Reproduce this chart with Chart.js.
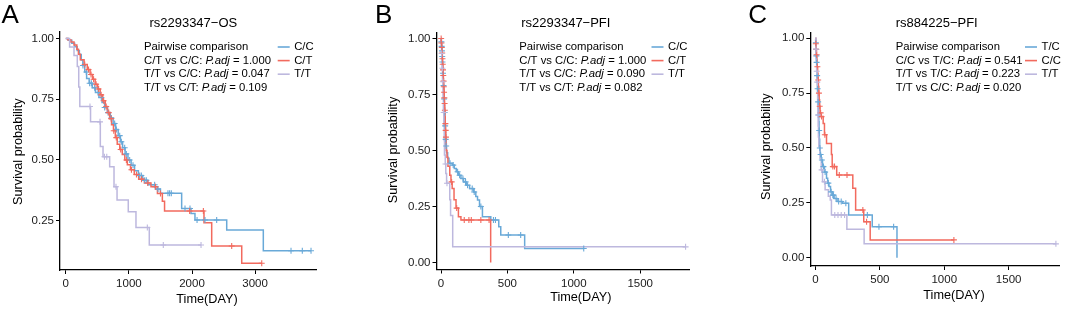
<!DOCTYPE html>
<html>
<head>
<meta charset="utf-8">
<script src="https://cdn.jsdelivr.net/npm/chart.js@4.4.1/dist/chart.umd.min.js"></script>
<style>
  html, body { margin: 0; padding: 0; background: #fff; }
  #wrap { position: relative; width: 1065px; height: 309px; overflow: hidden; }
  canvas { position: absolute; top: 0; }
</style>
</head>
<body>
<div id="wrap">
  <canvas id="panelA" width="355" height="309" style="left:0px"></canvas>
  <canvas id="panelB" width="355" height="309" style="left:355px"></canvas>
  <canvas id="panelC" width="355" height="309" style="left:710px"></canvas>
</div>
<script>
// Kaplan-Meier curves: [time, survival after drop] + censor times

// --- A: rs2293347 OS ---
const osCCSteps = [[40,0.993],[95,0.98],[140,0.966],[180,0.951],[215,0.934],[245,0.912],[270,0.889],[300,0.862],[330,0.835],[370,0.816],[420,0.797],[470,0.778],[525,0.757],[575,0.737],[615,0.716],[660,0.695],[705,0.673],[750,0.65],[790,0.625],[830,0.6],[865,0.575],[900,0.55],[940,0.525],[985,0.5],[1035,0.478],[1090,0.456],[1150,0.436],[1220,0.416],[1300,0.398],[1420,0.38],[1500,0.363],[1836,0.30],[1984,0.28],[2047,0.253],[2550,0.212],[3130,0.126]];
const osCCCensor = [272,325,378,405,457,510,563,616,669,722,774,801,854,880,933,959,1012,1065,1171,1197,1250,1276,1408,1461,1619,1645,1672,1889,1968,2080,2206,2391,3569,3748,3886];
const osCTSteps = [[30,0.995],[80,0.986],[130,0.973],[175,0.956],[200,0.935],[230,0.913],[290,0.893],[340,0.872],[385,0.852],[425,0.832],[465,0.812],[505,0.792],[545,0.768],[585,0.744],[625,0.72],[660,0.695],[695,0.67],[725,0.645],[755,0.62],[785,0.592],[815,0.565],[855,0.543],[895,0.522],[935,0.5],[975,0.48],[1025,0.46],[1085,0.44],[1155,0.421],[1245,0.405],[1350,0.39],[1452,0.362],[1530,0.33],[1565,0.29],[2190,0.242],[2312,0.146],[2788,0.075]];
const osCTCensor = [300,360,400,440,480,520,560,600,640,680,720,760,800,870,960,1040,1120,1200,1300,1420,1500,1963,2180,2629,3105];
const osTTSteps = [[60,0.965],[130,0.93],[182,0.885],[205,0.80],[222,0.72],[392,0.657],[547,0.555],[590,0.513],[695,0.472],[764,0.39],[812,0.335],[990,0.287],[1112,0.222],[1323,0.15]];
const osTTCensor = [383,542,612,649,795,1292,1545,2143];

// --- B: rs2293347 PFI ---
const pfiCCSteps = [[2,0.985],[4,0.965],[6,0.945],[8,0.92],[10,0.895],[12,0.87],[14,0.845],[16,0.82],[18,0.79],[20,0.76],[22,0.73],[24,0.70],[26,0.67],[28,0.64],[30,0.61],[32,0.58],[34,0.55],[37,0.52],[41,0.49],[50,0.465],[60,0.443],[85,0.435],[100,0.42],[115,0.405],[130,0.39],[150,0.375],[170,0.36],[190,0.345],[215,0.33],[245,0.315],[262,0.295],[275,0.279],[290,0.25],[312,0.204],[375,0.19],[435,0.16],[450,0.123],[630,0.063]];
const pfiCCCensor = [3,5,7,9,11,15,19,23,27,31,35,39,68,92,125,140,165,185,200,235,250,300,395,410,507,600,1075];
const pfiCTSteps = [[2,0.98],[5,0.96],[8,0.935],[10,0.91],[12,0.885],[14,0.86],[16,0.835],[18,0.81],[20,0.785],[22,0.76],[24,0.735],[26,0.71],[28,0.68],[30,0.65],[32,0.62],[34,0.59],[36,0.56],[38,0.53],[40,0.50],[45,0.47],[52,0.43],[66,0.39],[75,0.36],[84,0.33],[98,0.28],[113,0.243],[131,0.205],[150,0.19],[374,0]];
const pfiCTCensor = [1,3,6,9,11,13,15,17,19,21,23,25,27,29,33,35,37,80,118,175,210,228,300,362];
const pfiTTSteps = [[4,0.933],[8,0.867],[11,0.807],[15,0.74],[18,0.67],[21,0.61],[24,0.545],[26,0.48],[32,0.44],[36,0.398],[42,0.354],[66,0.28],[72,0.21],[88,0.07]];
const pfiTTCensor = [5,10,14,20,34,45,1842];

// --- C: rs884225 PFI ---
const snpTCSteps = [[2,0.98],[4,0.95],[6,0.92],[8,0.89],[10,0.86],[12,0.83],[14,0.80],[16,0.77],[18,0.74],[20,0.71],[22,0.68],[24,0.65],[26,0.62],[28,0.58],[30,0.54],[33,0.50],[36,0.47],[45,0.445],[55,0.415],[70,0.39],[86,0.362],[95,0.34],[105,0.324],[117,0.30],[130,0.285],[145,0.27],[168,0.256],[210,0.248],[258,0.195],[441,0.141],[633,0]];
const snpTCCensor = [3,5,7,9,13,17,21,25,29,34,40,50,62,75,100,122,135,140,160,180,200,236,403,493,607];
const snpCCSteps = [[2,0.975],[5,0.95],[8,0.925],[11,0.9],[14,0.87],[17,0.84],[20,0.81],[23,0.78],[26,0.75],[29,0.72],[32,0.69],[36,0.66],[42,0.643],[60,0.612],[70,0.56],[86,0.52],[124,0.47],[130,0.415],[165,0.377],[290,0.316],[312,0.217],[375,0.164],[425,0.081]];
const snpCCCensor = [3,6,9,15,21,27,33,40,47,73,135,148,185,245,368,397,1075];
const snpTTSteps = [[3,0.95],[6,0.90],[9,0.85],[12,0.80],[15,0.75],[17,0.70],[19,0.65],[21,0.60],[23,0.55],[26,0.506],[35,0.453],[45,0.40],[55,0.346],[75,0.31],[100,0.28],[115,0.263],[124,0.195],[244,0.129],[378,0.063]];
const snpTTCensor = [4,10,14,20,48,70,150,175,200,226,1867];

// legends / labels
const strataAB = ['C/C', 'C/T', 'T/T'];
const strataC = ['T/C', 'C/C', 'T/T'];
const pairsAB = ['C/T vs C/C', 'T/T vs C/C', 'T/T vs C/T'];
const pairsC = ['C/C vs T/C', 'T/T vs T/C', 'T/T vs C/C'];
const padjA = ['1.000', '0.047', '0.109'];
const padjB = ['1.000', '0.090', '0.082'];
const padjC = ['0.541', '0.223', '0.020'];
const xTicksOS = [0, 1000, 2000, 3000];
const xTicksPFI = [0, 500, 1000, 1500];
const yTicksA = [0.25, 0.5, 0.75, 1.0];
const yTicksBC = [0, 0.25, 0.5, 0.75, 1.0];

const COLORS = ['#69A9D8', '#F26A5E', '#BDB8DE'];
const FONT = '"Liberation Sans", Arial, Helvetica, sans-serif';
const INK = '#000';

function survAt(steps, t) {
    let s = 1;
    for (const [st, sv] of steps) {
        if (st <= t) s = sv; else break;
    }
    return s;
}

function drawRuns(ctx, runs, x, y, size) {
    runs.forEach(r => {
        ctx.font = (r.it ? 'italic ' : '') + size + 'px ' + FONT;
        ctx.fillText(r.t, x, y);
        x += ctx.measureText(r.t).width;
    });
}

function textLayer(p) {
    return {
        id: 'textLayer',
        afterDraw(chart) {
            const ctx = chart.ctx;
            ctx.save();
            ctx.fillStyle = INK;
            ctx.textBaseline = 'alphabetic';
            ctx.textAlign = 'left';
            ctx.font = '26px ' + FONT;
            ctx.fillText(p.letter, p.letterX, 22.7);

            ctx.textAlign = 'center';
            ctx.font = '13px ' + FONT;
            ctx.fillText(p.title, p.titleX, 27);

            ctx.font = '12.7px ' + FONT;
            ctx.textBaseline = 'middle';
            ctx.fillText('Time(DAY)', p.xLabX, p.xLabY);
            ctx.save();
            ctx.translate(p.yLabX, p.yLabY);
            ctx.rotate(-Math.PI / 2);
            ctx.fillText('Survival probability', 0, 0);
            ctx.restore();

            // pairwise legend
            const size = 11.3, base = 50, dy = 13.6;
            ctx.textAlign = 'left';
            ctx.textBaseline = 'alphabetic';
            ctx.font = size + 'px ' + FONT;
            ctx.fillText('Pairwise comparison', p.legX, base);
            p.pairs.forEach((pr, i) => {
                drawRuns(ctx, [{ t: pr + ': ' }, { t: 'P.adj', it: true }, { t: ' = ' + p.padj[i] }],
                    p.legX, base + dy * (i + 1), size);
            });
            p.strata.forEach((s, i) => {
                const y = base + dy * i;
                ctx.strokeStyle = COLORS[i];
                ctx.lineWidth = 1.6;
                ctx.beginPath();
                ctx.moveTo(p.keyX, y - 3);
                ctx.lineTo(p.keyX + 12, y - 3);
                ctx.stroke();
                ctx.font = size + 'px ' + FONT;
                ctx.fillText(s, p.keyX + 16.5, y);
            });
            ctx.restore();
        }
    };
}

function buildPanel(id, p) {
    const datasets = [];
    p.groups.forEach((g, i) => {
        const last = g.steps[g.steps.length - 1];
        const end = Math.max(last[0], ...g.censor);
        const line = [{ x: 0, y: 1 }].concat(g.steps.map(s => ({ x: s[0], y: s[1] })));
        if (end > last[0]) line.push({ x: end, y: last[1] });
        datasets.push({
            data: line,
            showLine: true,
            stepped: true,
            borderColor: COLORS[i],
            borderWidth: 1.5,
            pointRadius: 0,
            fill: false,
            order: 10 - i
        });
        datasets.push({
            data: g.censor.map(t => ({ x: t, y: survAt(g.steps, t) })),
            showLine: false,
            pointStyle: 'cross',
            pointRadius: 3,
            borderWidth: 1.1,
            borderColor: COLORS[i],
            backgroundColor: COLORS[i],
            order: 3 - i
        });
    });

    const tickFont = { family: FONT, size: 11.5 };
    new Chart(document.getElementById(id), {
        type: 'scatter',
        data: { datasets: datasets },
        options: {
            responsive: false,
            animation: false,
            events: [],
            layout: { padding: p.pad },
            plugins: { legend: { display: false }, tooltip: { enabled: false } },
            scales: {
                x: {
                    type: 'linear',
                    min: p.xMin,
                    max: p.xMax,
                    afterBuildTicks: s => { s.ticks = p.xTicks.map(v => ({ value: v })); },
                    afterFit: s => { s.height = 25; },
                    grid: { display: true, drawOnChartArea: false, drawTicks: true, tickLength: 4, color: '#000', lineWidth: 1 },
                    border: { display: true, color: '#000', width: 1.3 },
                    ticks: { color: '#1a1a1a', font: tickFont, padding: 3, maxRotation: 0, callback: v => String(v) }
                },
                y: {
                    type: 'linear',
                    min: p.yMin,
                    max: p.yMax,
                    afterBuildTicks: s => { s.ticks = p.yTicks.map(v => ({ value: v })); },
                    afterFit: s => { s.width = 40; },
                    grid: { display: true, drawOnChartArea: false, drawTicks: true, tickLength: 4, color: '#000', lineWidth: 1 },
                    border: { display: true, color: '#000', width: 1.3 },
                    ticks: { color: '#1a1a1a', font: tickFont, padding: 2, callback: v => v.toFixed(2) }
                }
            }
        },
        plugins: [textLayer(p)]
    });
}

buildPanel('panelA', {
    groups: [
        { steps: osCCSteps, censor: osCCCensor },
        { steps: osCTSteps, censor: osCTCensor },
        { steps: osTTSteps, censor: osTTCensor }
    ],
    xMin: -92, xMax: 3965, yMin: 0.047, yMax: 1.0268,
    xTicks: xTicksOS, yTicks: yTicksA,
    pad: { left: 20, right: 39, top: 32, bottom: 14 },
    letter: 'A', letterX: 1.5, title: 'rs2293347\u2212OS', titleX: 193.3,
    xLabX: 207, xLabY: 299, yLabX: 18.3, yLabY: 151.7,
    legX: 144, keyX: 277.7,
    pairs: pairsAB, padj: padjA, strata: strataAB
});

buildPanel('panelB', {
    groups: [
        { steps: pfiCCSteps, censor: pfiCCCensor },
        { steps: pfiCTSteps, censor: pfiCTCensor },
        { steps: pfiTTSteps, censor: pfiTTCensor }
    ],
    xMin: -34, xMax: 1870, yMin: -0.031, yMax: 1.0246,
    xTicks: xTicksPFI, yTicks: yTicksBC,
    pad: { left: 41.5, right: 20.7, top: 33, bottom: 14.5 },
    letter: 'B', letterX: 20, title: 'rs2293347\u2212PFI', titleX: 210.8,
    xLabX: 225.8, xLabY: 297, yLabX: 38.3, yLabY: 150,
    legX: 164.3, keyX: 296.5,
    pairs: pairsAB, padj: padjB, strata: strataAB
});

buildPanel('panelC', {
    groups: [
        { steps: snpTCSteps, censor: snpTCCensor },
        { steps: snpCCSteps, censor: snpCCCensor },
        { steps: snpTTSteps, censor: snpTTCensor }
    ],
    xMin: -40, xMax: 1898, yMin: -0.038, yMax: 1.0273,
    xTicks: xTicksPFI, yTicks: yTicksBC,
    pad: { left: 60.3, right: 2, top: 32.3, bottom: 18 },
    letter: 'C', letterX: 38.3, title: 'rs884225\u2212PFI', titleX: 226.7,
    xLabX: 244, xLabY: 295, yLabX: 56.7, yLabY: 146.7,
    legX: 185.7, keyX: 315,
    pairs: pairsC, padj: padjC, strata: strataC
});
</script>
</body>
</html>
